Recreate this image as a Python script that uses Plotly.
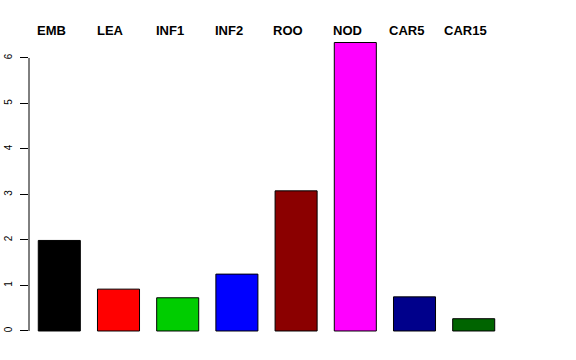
import plotly.graph_objects as go

categories = ["EMB", "LEA", "INF1", "INF2", "ROO", "NOD", "CAR5", "CAR15"]
values = [1.99, 0.92, 0.73, 1.25, 3.08, 6.34, 0.75, 0.27]
colors = ["#000000", "#FF0000", "#00CD00", "#0000FF", "#8B0000", "#FF00FF", "#00008B", "#006400"]
yticks = [0, 1, 2, 3, 4, 5, 6]

fig = go.Figure()
fig.add_trace(go.Bar(
    x=categories, y=values,
    marker=dict(color=colors, line=dict(color="#000000", width=1)),
    showlegend=False, hoverinfo="skip",
))

for c in categories:
    fig.add_annotation(
        x=c, xref="x", y=1.0, yref="paper", yanchor="middle",
        text="<b>" + c + "</b>", showarrow=False, xshift=-8,
        font=dict(family="Liberation Sans, Arial, sans-serif", size=13, color="#000000"),
    )

# R-style axis line spanning only the tick range
fig.add_shape(type="line", xref="paper", yref="y", x0=0, x1=0,
              y0=min(yticks), y1=max(yticks),
              line=dict(color="#000000", width=1))

fig.update_layout(
    width=576, height=360,
    margin=dict(l=29, r=28, t=30, b=20, autoexpand=False),
    paper_bgcolor="white", plot_bgcolor="white",
    bargap=0.29,
    font=dict(family="Liberation Sans, Arial, sans-serif", color="#000000"),
    xaxis=dict(showticklabels=False, showgrid=False, zeroline=False, showline=False,
               ticks="", range=[-0.5118, 8.255], automargin=False),
    yaxis=dict(range=[-0.198, 6.615], tickvals=yticks, ticktext=[str(t) for t in yticks],
               showgrid=False, zeroline=False, showline=False, automargin=False,
               ticks="outside", ticklen=8, tickwidth=1, tickcolor="#000000",
               ticklabelstandoff=4,
               tickangle=-90, tickfont=dict(size=10, color="#000000")),
)

fig.write_html("out.html")
